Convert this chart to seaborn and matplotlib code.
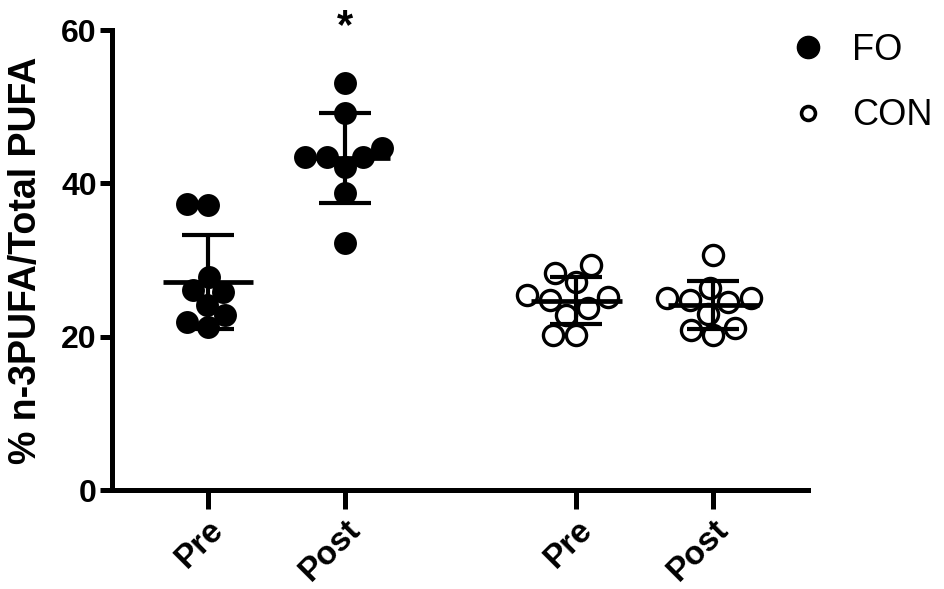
import numpy as np
import pandas as pd
import matplotlib
matplotlib.use("Agg")
import matplotlib.pyplot as plt
import matplotlib.transforms as mtransforms
from matplotlib.lines import Line2D
import seaborn as sns

# values (% n-3 PUFA / total PUFA)
fo_pre = [37.2, 37.3, 27.8, 26.1, 25.8, 24.1, 22.8, 21.9, 21.3]
fo_post = [53.1, 49.2, 44.6, 43.4, 43.4, 43.4, 42.1, 38.7, 32.2]
con_pre = [29.3, 28.3, 27.1, 25.4, 25.2, 24.8, 23.7, 22.8, 20.2, 20.2]
con_post = [30.6, 26.3, 25.0, 25.0, 24.8, 24.5, 23.0, 21.1, 20.9, 20.2]

groups = ["FO Pre", "FO Post", "CON Pre", "CON Post"]
tick_labels = ["Pre", "Post", "Pre", "Post"]
series = [fo_pre, fo_post, con_pre, con_post]
diet = ["FO", "FO", "CON", "CON"]
xpos = {"FO Pre": 0.0, "FO Post": 1.0, "CON Pre": 2.69, "CON Post": 3.69}

rows = []
for g, d, vals in zip(groups, diet, series):
    for v in vals:
        rows.append({"group": g, "diet": d, "x": xpos[g], "value": v})
df = pd.DataFrame(rows)


def main():
    sns.set_style("white")
    plt.rcParams["font.family"] = ["Liberation Sans", "DejaVu Sans"]
    for k in ["text.color", "axes.labelcolor", "xtick.color", "ytick.color"]:
        plt.rcParams[k] = "black"

    fig = plt.figure(figsize=(9.45, 5.89), dpi=100)
    ax = fig.add_axes([0.1185, 0.168, 0.7365, 0.781])

    # swarm laid out with smaller markers, then enlarged so that dots overlap
    sns.swarmplot(data=df[df["diet"] == "FO"], x="x", y="value", native_scale=True,
                  color="black", size=14.5, linewidth=0, ax=ax, zorder=3)
    sns.swarmplot(data=df[df["diet"] == "CON"], x="x", y="value", native_scale=True,
                  color="black", facecolor="white", edgecolor="black", size=13.5,
                  linewidth=2.4, ax=ax, zorder=3)
    ax.set_xlim(-0.70, 4.38)
    ax.set_ylim(0, 60)
    fig.canvas.draw()
    for i, coll in enumerate(ax.collections):
        if "draw" in coll.__dict__:
            del coll.draw  # keep the swarm offsets computed above
        coll.set_sizes([16.5 ** 2 if i < 2 else 14.5 ** 2])

    # mean +/- SD
    for g in groups:
        vals = df.loc[df["group"] == g, "value"].to_numpy()
        m, sd = vals.mean(), vals.std(ddof=1)
        p = xpos[g]
        ax.hlines(m, p - 0.33, p + 0.33, color="black", lw=3.4, zorder=5)
        ax.vlines(p, m - sd, m + sd, color="black", lw=3.0, zorder=5)
        ax.hlines([m - sd, m + sd], p - 0.19, p + 0.19, color="black", lw=3.0, zorder=5)

    ax.text(xpos["FO Post"], 57.8, "*", ha="center", va="bottom", fontsize=30,
            fontweight="bold", clip_on=False)

    ax.set_yticks([0, 20, 40, 60])
    ax.set_xticks([xpos[g] for g in groups], tick_labels, rotation=45,
                  ha="right", rotation_mode="anchor")
    ax.set_xlabel("")
    ax.set_ylabel("% n-3PUFA/Total PUFA", fontsize=27, fontweight="bold", labelpad=12)

    shift = mtransforms.ScaledTranslation(-10 / 100, -2 / 100, fig.dpi_scale_trans)
    for lab in ax.get_xticklabels():
        lab.set_fontsize(24)
        lab.set_fontweight("bold")
        lab.set_transform(lab.get_transform() + shift)
    for lab in ax.get_yticklabels():
        lab.set_fontsize(23)
        lab.set_fontweight("bold")

    sns.despine(ax=ax)
    for s in ["left", "bottom"]:
        ax.spines[s].set_linewidth(3.6)
        ax.spines[s].set_color("black")
    ax.tick_params(axis="y", length=9, width=3.6, color="black", pad=2, left=True)
    ax.tick_params(axis="x", length=14, width=3.6, color="black", pad=3, bottom=True)

    handles = [
        Line2D([], [], marker="o", ls="", color="black", markersize=16),
        Line2D([], [], marker="o", ls="", markerfacecolor="white",
               markeredgecolor="black", markeredgewidth=2.6, markersize=10),
    ]
    ax.legend(handles, ["FO", "CON"], loc="upper left", bbox_to_anchor=(0.928, 1.065),
              frameon=False, fontsize=26, handletextpad=0.7, labelspacing=0.85,
              handlelength=1.0)

    fig.savefig("out.png", dpi=100)


if __name__ == "__main__":
    main()
